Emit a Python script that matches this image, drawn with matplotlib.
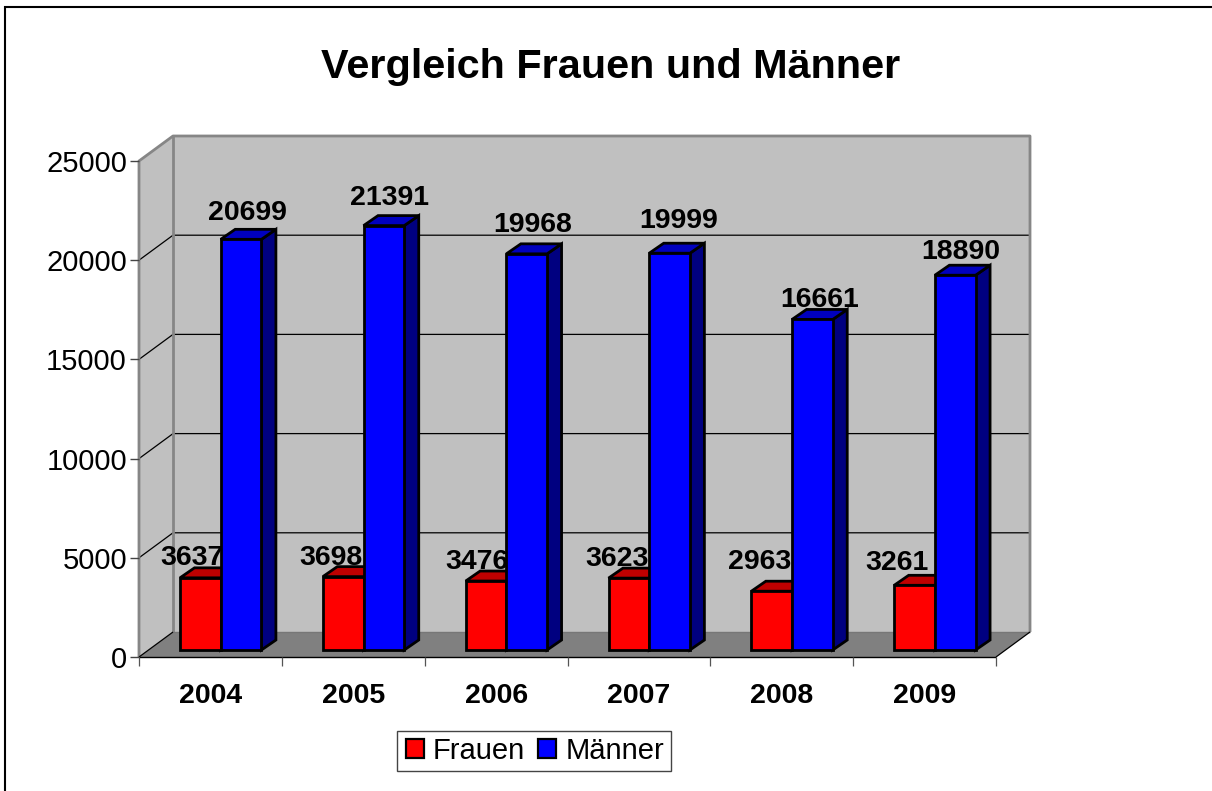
import matplotlib
matplotlib.use("Agg")
import matplotlib.pyplot as plt
from matplotlib.patches import Polygon, Rectangle
from matplotlib.lines import Line2D

plt.rcParams['font.family'] = ['Liberation Sans', 'DejaVu Sans']

years = ["2004", "2005", "2006", "2007", "2008", "2009"]
frauen = [3637, 3698, 3476, 3623, 2963, 3261]
maenner = [20699, 21391, 19968, 19999, 16661, 18890]
y_ticks = [0, 5000, 10000, 15000, 20000, 25000]

# label placement relative to the bar's left/top corner, in pixels
frauen_dx = [12, 8.5, 11, 9, 8, 3]
frauen_dy = [23, 22, 22, 22, 32, 25]
maenner_dx = [27, 26, 26, 29, 27.5, 26]
maenner_dy = [29, 31, 32, 35, 22, 26]

W, H = 1212, 791
fig = plt.figure(figsize=(W / 100, H / 100), dpi=100, facecolor='white')

# chart frame: only top and left edges are visible
fig.add_artist(Line2D([5 / W, 5 / W, 1], [0, 1 - 7 / H, 1 - 7 / H], color='black', lw=1.5,
                      transform=fig.transFigure, solid_joinstyle='miter', solid_capstyle='butt'))

x0, x1, y0, y1 = 139, 996, 657, 161
ax = fig.add_axes([x0 / W, 1 - y0 / H, (x1 - x0) / W, (y0 - y1) / H])
ax.set_xlim(0, 6)
ax.set_ylim(0, 25000)
ax.axis('off')

px = 6 / (x1 - x0)        # category units per pixel
py = 25000 / (y0 - y1)    # value units per pixel
DX, DY = 34 * px, 25 * py  # depth of the box


def poly(pts, fc, ec='none', lw=0, z=1):
    ax.add_patch(Polygon(pts, closed=True, facecolor=fc, edgecolor=ec, linewidth=lw,
                         clip_on=False, zorder=z, joinstyle='miter'))


def line(xs, ys, color='black', lw=1.0, z=2):
    ax.plot(xs, ys, color=color, lw=lw, clip_on=False, zorder=z, solid_capstyle='butt')


WALL, FLOOR, EDGE = '#c0c0c0', '#808080', '#868686'
top = y_ticks[-1]
# back wall, side wall, floor
poly([(DX, DY), (6 + DX, DY), (6 + DX, top + DY), (DX, top + DY)], WALL, z=1)
poly([(0, 0), (DX, DY), (DX, top + DY), (0, top)], WALL, z=1)
poly([(0, 0), (6, 0), (6 + DX, DY), (DX, DY)], FLOOR, z=1)

# grid lines on the walls
for v in y_ticks[1:-1]:
    line([0, DX, 6 + DX], [v, v + DY, v + DY], lw=0.9, z=2)

# wall borders
line([0, 0, DX, 6 + DX, 6 + DX], [0, top, top + DY, top + DY, DY], color=EDGE, lw=2.0, z=2)
line([DX, DX], [DY, top + DY], color=EDGE, lw=2.0, z=2)
line([DX, 6 + DX], [DY, DY], color='#777777', lw=1.0, z=2)
line([0, DX], [0, DY], color='black', lw=0.9, z=3)
line([6, 6 + DX], [0, DY], color='black', lw=0.9, z=3)

# axes lines and ticks
line([0, 6], [0, 0], color='black', lw=1.0, z=3)
line([6, 6], [0, -9 * py], color='#555555', lw=0.9, z=3)
for i in range(6):
    line([i, i], [0, -9 * py], color='#555555', lw=0.9, z=3)
for v in y_ticks:
    line([-9 * px, 0], [v, v], color='#444444', lw=1.0, z=3)
    ax.text(-12 * px, v, str(v), ha='right', va='center_baseline', fontsize=21, zorder=6)

for i, y in enumerate(years):
    ax.text(i + 0.5, -36 * py, y, ha='center', va='center_baseline', fontsize=20.5,
            fontweight='bold', zorder=6)

# bars
BW = 40.7 * px
OFF = 41 * px
BASE = 7 * py
BDX, BDY = 14.5 * px, 10 * py
LW = 2.0


def bar(left, value, front, topc, side, z):
    r, t, b = left + BW, BASE + value, BASE
    poly([(r, b), (r + BDX, b + BDY), (r + BDX, t + BDY), (r, t)], side, 'black', LW, z)
    poly([(left, t), (r, t), (r + BDX, t + BDY), (left + BDX, t + BDY)], topc, 'black', LW, z)
    poly([(left, b), (r, b), (r, t), (left, t)], front, 'black', LW, z)


for i in range(6):
    left = i + OFF
    bar(left, frauen[i], '#ff0000', '#bf0000', '#800000', 10 + 3 * i)
    ax.text(left + frauen_dx[i] * px, frauen[i] + BASE + frauen_dy[i] * py, str(frauen[i]),
            ha='center', va='center_baseline', fontsize=20.5, fontweight='bold', zorder=11 + 3 * i)
    bar(left + BW, maenner[i], '#0000ff', '#0000bf', '#000080', 12 + 3 * i)
    ax.text(left + BW + maenner_dx[i] * px, maenner[i] + BASE + maenner_dy[i] * py, str(maenner[i]),
            ha='center', va='center_baseline', fontsize=20.5, fontweight='bold', zorder=40)

fig.text(611 / W, 1 - 63 / H, "Vergleich Frauen und Männer", ha='center', va='center_baseline',
         fontsize=29.8, fontweight='bold')

# legend: separate frame so its padding can differ per direction
fig.add_artist(Rectangle((397 / W, 1 - 771 / H), 274 / W, 40 / H, facecolor='white',
                         edgecolor='#444444', linewidth=1.0, transform=fig.transFigure, zorder=5))
h = [Rectangle((0, 0), 1, 1, facecolor='#ff0000', edgecolor='black', linewidth=1.6),
     Rectangle((0, 0), 1, 1, facecolor='#0000ff', edgecolor='black', linewidth=1.6)]
leg = fig.legend(h, ["Frauen", "Männer"], ncol=2, loc='center',
                 bbox_to_anchor=(535 / W, 1 - 751 / H), fontsize=21, frameon=False,
                 handlelength=0.62, handleheight=0.62,
                 handletextpad=0.3, columnspacing=0.45, borderpad=0, borderaxespad=0)
leg.set_zorder(6)

fig.savefig('out.png', dpi=100)
